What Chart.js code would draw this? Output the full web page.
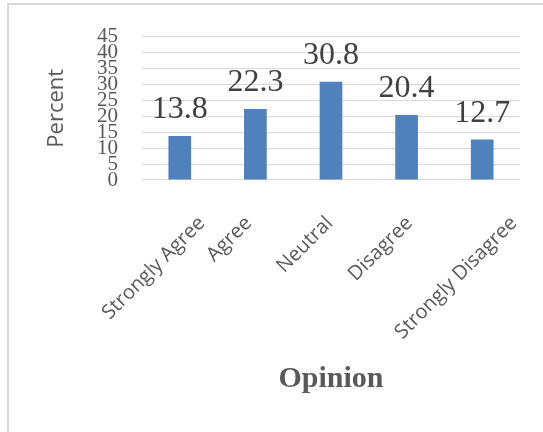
<!DOCTYPE html>
<html>
<head>
<meta charset="utf-8">
<script src="https://cdn.jsdelivr.net/npm/chart.js@4.4.1/dist/chart.umd.min.js"></script>
<style>
  html, body { margin: 0; padding: 0; background: #ffffff; }
  canvas { display: block; }
</style>
</head>
<body>
<canvas id="opinionChart" width="543" height="432"></canvas>
<script>
// Survey opinion distribution
const categories = ['Strongly Agree', 'Agree', 'Neutral', 'Disagree', 'Strongly Disagree'];
const percentValues = [13.8, 22.3, 30.8, 20.4, 12.7];
const yTickValues = [0, 5, 10, 15, 20, 25, 30, 35, 40, 45];

const GRID_GREY = '#d9d9d9';
const TEXT_GREY = '#595959';
const LABEL_DARK = '#404040';
const BAR_BLUE = '#4f81bd';

// Light frame along the top and left edges, on a white background
const framePlugin = {
  id: 'frame',
  beforeDraw(chart) {
    const ctx = chart.ctx;
    ctx.save();
    ctx.fillStyle = '#ffffff';
    ctx.fillRect(0, 0, chart.width, chart.height);
    ctx.strokeStyle = GRID_GREY;
    ctx.lineWidth = 2;
    ctx.beginPath();
    ctx.moveTo(8, chart.height);
    ctx.lineTo(8, 4);
    ctx.lineTo(chart.width, 4);
    ctx.stroke();
    ctx.restore();
  }
};

// Value labels above each bar
const valueLabelPlugin = {
  id: 'valueLabels',
  afterDatasetsDraw(chart) {
    const ctx = chart.ctx;
    const meta = chart.getDatasetMeta(0);
    const values = chart.data.datasets[0].data;
    ctx.save();
    ctx.font = '32px "Liberation Serif", "Times New Roman", serif';
    ctx.fillStyle = LABEL_DARK;
    ctx.textAlign = 'center';
    ctx.textBaseline = 'alphabetic';
    meta.data.forEach((bar, i) => {
      ctx.fillText(values[i].toFixed(1), bar.x, bar.y - 18);
    });
    ctx.restore();
  }
};

// Category names rotated 45 degrees under the axis
const categoryLabelPlugin = {
  id: 'categoryLabels',
  afterDraw(chart) {
    const ctx = chart.ctx;
    const xScale = chart.scales.x;
    const area = chart.chartArea;
    const fontSize = 20;
    ctx.save();
    ctx.font = fontSize + 'px "Open Sans", sans-serif';
    ctx.fillStyle = TEXT_GREY;
    ctx.textAlign = 'center';
    ctx.textBaseline = 'middle';
    chart.data.labels.forEach((label, i) => {
      const tickX = xScale.getPixelForTick(i);
      const len = ctx.measureText(label).width;
      const boxW = (len + fontSize) * Math.SQRT1_2;
      const cx = tickX - 26;
      const cy = area.bottom + 33 + boxW / 2;
      ctx.save();
      ctx.translate(cx, cy);
      ctx.rotate(-Math.PI / 4);
      ctx.fillText(label, 0, 0);
      ctx.restore();
    });
    ctx.restore();
  }
};

new Chart(document.getElementById('opinionChart'), {
  type: 'bar',
  data: {
    labels: categories,
    datasets: [{
      data: percentValues,
      backgroundColor: BAR_BLUE,
      borderWidth: 0,
      categoryPercentage: 1,
      barPercentage: 0.3
    }]
  },
  options: {
    responsive: false,
    animation: false,
    devicePixelRatio: 1,
    layout: { padding: { left: 0, right: 23, top: 32, bottom: 0 } },
    plugins: {
      legend: { display: false },
      tooltip: { enabled: false }
    },
    scales: {
      x: {
        grid: { display: false },
        border: { display: false },
        ticks: { display: false },
        title: {
          display: true,
          text: 'Opinion',
          color: TEXT_GREY,
          font: { family: '"Liberation Serif", "Times New Roman", serif', size: 30, weight: 'bold', lineHeight: 1.2 },
          padding: { top: 0, bottom: 35 }
        },
        afterFit(scale) { scale.height = 252; }
      },
      y: {
        min: 0,
        max: 45,
        afterBuildTicks(scale) {
          scale.ticks = yTickValues.map(v => ({ value: v }));
        },
        grid: { color: GRID_GREY, lineWidth: 1, drawTicks: false },
        border: { display: false },
        ticks: {
          autoSkip: false,
          padding: 24,
          color: TEXT_GREY,
          font: { family: '"Liberation Serif", "Times New Roman", serif', size: 21 }
        },
        title: {
          display: true,
          text: 'Percent',
          color: TEXT_GREY,
          font: { family: '"Open Sans", sans-serif', size: 22, lineHeight: 1.2 },
          padding: { top: 44, bottom: 0 }
        },
        afterFit(scale) { scale.width = 142; }
      }
    }
  },
  plugins: [framePlugin, valueLabelPlugin, categoryLabelPlugin]
});
</script>
</body>
</html>
